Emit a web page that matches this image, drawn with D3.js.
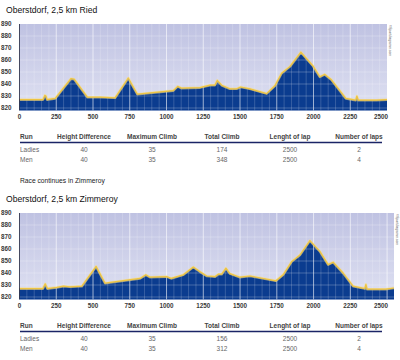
<!DOCTYPE html>
<html>
<head>
<meta charset="utf-8">
<script src="https://cdn.jsdelivr.net/npm/d3@7"></script>
<style>
  body { margin: 0; background: #fff; }
  svg { display: block; font-family: "Liberation Sans", Arial, sans-serif; }
</style>
</head>
<body>
<svg id="chart" width="400" height="360"></svg>
<script>
"use strict";

// elevation profile, Ried lap: [distance m, altitude m]
const riedProfile = [
    [0, 827], [160, 827], [172, 830.5], [180, 830], [188, 827], [243, 828],
    [350, 844.5], [372, 844], [462, 829], [548, 829], [650, 828.5], [740, 845],
    [802, 831.5], [1046, 834.5], [1076, 838], [1103, 836.5], [1228, 837],
    [1296, 839], [1329, 839], [1345, 843], [1375, 839], [1431, 836], [1477, 836],
    [1504, 837.5], [1567, 836], [1681, 832], [1737, 838.5], [1783, 849],
    [1839, 854.5], [1914, 866.5], [1997, 855], [2043, 846], [2077, 848],
    [2122, 843.5], [2220, 828], [2287, 826.5], [2295, 830], [2305, 826.5],
    [2428, 826.5], [2500, 827]
];

// elevation profile, Zimmeroy lap
const zimmeroyProfile = [
    [0, 827], [159, 827], [175, 831], [190, 827], [254, 828], [299, 829],
    [344, 828.5], [424, 829], [521, 845.5], [582, 831.5], [820, 835.5],
    [859, 838.5], [888, 836.5], [1001, 837], [1031, 835.5], [1114, 838.5],
    [1182, 845], [1228, 841], [1273, 837.5], [1330, 837], [1352, 839],
    [1375, 839], [1404, 844], [1431, 839.5], [1499, 836.5], [1567, 837.5],
    [1744, 833.5], [1793, 838.5], [1851, 849.5], [1907, 855], [1975, 867],
    [2043, 858], [2099, 847], [2133, 849], [2201, 840], [2269, 829],
    [2348, 827], [2356, 830.5], [2364, 826.5], [2490, 826.5], [2547, 827.5]
];

const xTicks = [0, 250, 500, 750, 1000, 1250, 1500, 1750, 2000, 2250, 2500];
const yTicks = [820, 830, 840, 850, 860, 870, 880, 890];

const tableColumns = ["Run", "Height Difference", "Maximum Climb", "Total Climb", "Lenght of lap", "Number of laps"];
const riedRows = [
    ["Ladies", 40, 35, 174, 2500, 2],
    ["Men", 40, 35, 348, 2500, 4]
];
const zimmeroyRows = [
    ["Ladies", 40, 35, 156, 2500, 2],
    ["Men", 40, 35, 312, 2500, 4]
];

const svg = d3.select("#chart");

const defs = svg.append("defs");
const grad = defs.append("linearGradient")
    .attr("id", "bg").attr("x1", 0).attr("y1", 0).attr("x2", 0).attr("y2", 1);
grad.append("stop").attr("offset", "0%").attr("stop-color", "#bfc2e2");
grad.append("stop").attr("offset", "100%").attr("stop-color", "#dfe1f2");

const colX = [20, 84, 152, 222, 290, 359];

function drawProfile(top, title, profile, maxDist, rightPx, rows, watermarkX) {
    const g = svg.append("g").attr("transform", `translate(0,${top})`);

    const x = d3.scaleLinear().domain([0, maxDist]).range([19.5, rightPx]);
    const y = d3.scaleLinear().domain([820, 890]).range([108, 24]);
    const yBottom = y(818);

    g.append("text")
        .attr("x", 6).attr("y", 13)
        .attr("font-size", 8.6).attr("fill", "#111")
        .text(title);

    g.append("rect")
        .attr("x", x(0)).attr("y", y(890))
        .attr("width", x(maxDist) - x(0)).attr("height", yBottom - y(890))
        .attr("fill", "url(#bg)");

    const area = d3.area()
        .x(d => x(d[0]))
        .y0(yBottom)
        .y1(d => y(d[1]));
    const line = d3.line()
        .x(d => x(d[0]))
        .y(d => y(d[1]));

    g.append("path").datum(profile).attr("d", area).attr("fill", "#0b3c8f");

    // grid on top of the fill
    const minor = d3.range(50, maxDist, 50).filter(v => v % 250 !== 0);
    g.append("g").selectAll("line").data(minor).join("line")
        .attr("x1", d => x(d)).attr("x2", d => x(d))
        .attr("y1", y(890)).attr("y2", yBottom)
        .attr("stroke", "#fff").attr("stroke-opacity", 0.3).attr("stroke-width", 0.6);
    g.append("g").selectAll("line").data(xTicks.filter(v => v > 0 && v < maxDist)).join("line")
        .attr("x1", d => x(d)).attr("x2", d => x(d))
        .attr("y1", y(890)).attr("y2", yBottom)
        .attr("stroke", "#fff").attr("stroke-opacity", 0.6).attr("stroke-width", 1);
    g.append("g").selectAll("line").data(yTicks.slice(0, -1)).join("line")
        .attr("x1", x(0)).attr("x2", x(maxDist))
        .attr("y1", d => y(d)).attr("y2", d => y(d))
        .attr("stroke", "#fff").attr("stroke-opacity", 0.35).attr("stroke-width", 0.7);

    g.append("path").datum(profile).attr("d", line)
        .attr("fill", "none").attr("stroke", "#f6dd8a").attr("stroke-width", 2.6)
        .attr("stroke-opacity", 0.6).attr("stroke-linejoin", "round");
    g.append("path").datum(profile).attr("d", line)
        .attr("fill", "none").attr("stroke", "#eec442").attr("stroke-width", 1.2)
        .attr("stroke-linejoin", "round");

    g.append("line")
        .attr("x1", x(0)).attr("x2", x(0)).attr("y1", y(890)).attr("y2", yBottom)
        .attr("stroke", "#1a1f3a").attr("stroke-width", 0.8);

    g.append("g").selectAll("text").data(yTicks).join("text")
        .attr("x", 1).attr("y", d => y(d) + 2.2)
        .attr("font-size", 6.3).attr("font-weight", "bold").attr("fill", "#3a3a3a")
        .text(d => d);

    g.append("g").selectAll("text").data(xTicks).join("text")
        .attr("x", d => Math.min(x(d), 381))
        .attr("y", 119)
        .attr("text-anchor", "middle")
        .attr("font-size", 6.3).attr("font-weight", "bold").attr("fill", "#3a3a3a")
        .text(d => d);

    g.append("text")
        .attr("transform", `translate(${watermarkX},25) rotate(90)`)
        .attr("font-size", 3.2).attr("fill", "#555")
        .text("©Sportdiagramm.com");

    // stats table
    g.append("g").selectAll("text").data(tableColumns).join("text")
        .attr("x", (d, i) => colX[i])
        .attr("y", 139)
        .attr("text-anchor", (d, i) => i === 0 ? "start" : "middle")
        .attr("font-size", 6.5).attr("font-weight", "bold").attr("fill", "#444")
        .text(d => d);
    g.append("line")
        .attr("x1", 20).attr("x2", 382).attr("y1", 142.5).attr("y2", 142.5)
        .attr("stroke", "#1b2466").attr("stroke-width", 1.3);

    rows.forEach((row, r) => {
        g.append("g").selectAll("text").data(row).join("text")
            .attr("x", (d, i) => colX[i])
            .attr("y", 152 + r * 9.5)
            .attr("text-anchor", (d, i) => i === 0 ? "start" : "middle")
            .attr("font-size", 6.5).attr("fill", "#666")
            .text(d => d);
    });
}

drawProfile(0, "Oberstdorf, 2,5 km Ried", riedProfile, 2500, 387, riedRows, 389);

svg.append("text")
    .attr("x", 20).attr("y", 182.5)
    .attr("font-size", 6.7).attr("fill", "#222")
    .text("Race continues in Zimmeroy");

drawProfile(189, "Oberstdorf, 2,5 km Zimmeroy", zimmeroyProfile, 2547, 394, zimmeroyRows, 396);
</script>
</body>
</html>
